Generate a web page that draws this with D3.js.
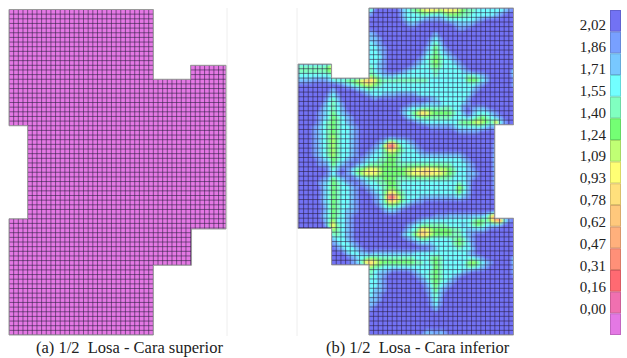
<!DOCTYPE html>
<html>
<head>
<meta charset="utf-8">
<script src="https://cdn.jsdelivr.net/npm/d3@7"></script>
<style>
  html, body { margin: 0; background: #fff; overflow: hidden; }
  text { font-family: "Liberation Serif", serif; fill: #222; }
</style>
</head>
<body>
<div id="chart"></div>
<script>
// legend, top to bottom
const legendLabels = ["2,02","1,86","1,71","1,55","1,40","1,24","1,09","0,93","0,78","0,62","0,47","0,31","0,16","0,00"];
const legendColors = ["#7272f4","#78a0ff","#78c8ff","#72ffff","#80ffc0","#74ff74","#c0ff74","#ffff74",
                      "#ffe07c","#ffc87c","#ffb07c","#ff9078","#ff6a72","#f070b0","#e478e4"];
const captions = ["(a) 1/2  Losa - Cara superior", "(b) 1/2  Losa - Cara inferior"];

// slab outlines, in mesh cells
const outlineTop = [[0,0],[31,0],[31,15],[39,15],[39,12],[46.6,12],[46.6,47.2],[39.2,47.2],[39.2,55],[31,55],[31,70],[0,70],[0,45],[4,45],[4,25],[0,25]];
const outlineBottom = [[15.2,0],[46.2,0],[46.2,25],[42.2,25],[42.2,45],[46.2,45],[46.2,70],[15.2,70],[15.2,55],[7.2,55],[7.2,47.2],[0,47.2],[0,12],[7.2,12],[7.2,15],[15.2,15]];

// cara inferior, one character per mesh cell: legend step counted from the bottom (0 to e), "." is outside the slab
const levelRows = [
"...............aeeeeeecba98777877789aabbbbbbcde",
"...............deeeeeecbbbaabbba999aabbbbbcdeee",
"...............eeeeeeedbbbcddddcbbbbbbcdeeeeeee",
"...............eeeeeeeedcdeeeeeeedcccdeeeeeeeee",
"...............eeeeeeeeeeeeeeeeeeeddeeeeeeeeeee",
"...............cdeeeeeeeeeeeeceeeeeeeeeeeeeeeee",
"...............ccdeeeeeeeeeedbdeeeeeeeeeeeeeeee",
"...............bcdeeeeeeeeeecaceeeeeeeeeeeeeeee",
"...............bbcdeeeeeeeedb9bdeeeeeeeeeeeeeee",
"...............bbcdeeeeeeeecb9bcdeeeeeeeeeeeeee",
"...............bbbdeeeeeeedba9abcdeeeeeeeeeeeee",
"...............bbcdeeeeeedcba8abbcdeeeeeeeeeeee",
"aaaaaa96.......abcdeeeeedcbba9abbbcdeeeeeeeeeee",
"aaaaaa98.......abcdeeedcbbbbbabbbbbcdeeeeeeeeea",
"bbbbbbba.......9abcccbbbbbbbbabbbbbbaabcdeeeeeb",
"cccdddcbaa99875579aaaaaaaaaabbbbbbbb999bceeeeed",
"eeeeeeeeedcba9889abbbbbbbbbbbbbbbbbbbbcdeeeeeeb",
"eeeeeeeceeeedcbabbbbbbbbbbbbbbbbbbbbbcdeeeeeeee",
"eeeeeedbdeeeeedcbbcccddddcbbbbbbbbbbbdeeeeeeeee",
"eeeeeecaceeeeeeedeeeeeeeeeeedcbbbbbbdeeeeeeeeee",
"eeeeedbabdeeeeeeeeeeeeeedddccccbbbbcdeeeeeeeeee",
"eeeeecbabceeeeeeeeeeeedcbbaaaaaaabbdedccdeeeeee",
"eeeedcb9bcdeeeeeeeeeeecba85689999abcecbbbcdeeee",
"eeeedcb9abcdeeeeeeeeeeecbaaaaaaaabbbcba9abcdeee",
"eeeedba9abcdeeeeeeeeeeeeedcbbbbbbba998789a5bdee",
"eeedcba9abbcdeeeeeeeeeeeeeeedddddcbbbbbbcdc....",
"eeedcba9abbcdeeeeeeeeeeeeeeeeeeeeedddddeeee....",
"eeedcba8abbcdeeeeeeeeeeeeeeeeeeeeeeeeeeeeee....",
"eeedcba8abbcdeeeedc99bbcdeeeeeeeeeeeeeeeeed....",
"eeedcba8abbcdeeedc8118bbcdeeeeeeeeeeeeeeeec....",
"eeedcba8abbcdeedcba779abbcdeeeeeeeeeeeeeeec....",
"eeedcba8abbcdedcbba99abbbbcccccccccdeeeeeeb....",
"eeeedcb9abcdedcbbaa99abbbbbbbbbbbbbcdeeeeeb....",
"eeeeddc9bcdedcbaaa999aaaaaaaaaaaabbbcdeeeeb....",
"eeeeeedacedca98778999998877677889abbcdeeeeb....",
"eeeeeedbdedca87778999998776667789abbccdeeec....",
"eeeeedc9bcdedcbaaa999aaaaaaaaaaaabbbcdeeeeb....",
"eeeedcb9abcdedcbbaa99abbbbbbbbbbbbabceeeeec....",
"eeeeecb9abbcdedcbba99abbbbbbbbbbbb8aceeeeec....",
"eeeeecb9abbcdeedcba779abbbbbbbbbbb9bceeeeed....",
"eeeeecb9abbcdeeedca117abbbccccccccbcdeeeeed....",
"eeeeecb9abbcdeeedca778abcddeeeeeeeeeeeeeeee....",
"eeeeedb9abbcdeeeedbaabcdeeeeeeeeeeeeeeeeeee....",
"eeeeedb9abccdeeeeedccdeeeeeeeeeeeeeeeeeeeee....",
"eeeeecb9abcdeeeeeeeeeeeeeeeeedddccccccccb63....",
"eeeeedb8bbcdeeeeeeeeeeeeedcbbbbbbbbbba99a743bde",
"eeeeeea6abcdeeeeeeeeeeedcbaaaaaabbbcba9abccdeee",
".......8abcdeeeeeeeeeeecba6789999aabccccdeeeeee",
".......aabcdeeeeeeeeeecba85689999aabcdeeeeeeeee",
".......cbbcdeeeeeeeeeeedcbaabbbbba9acdeeeeeeeee",
".......dcbbcdeeeeeeeeeeeedcccbbbba9abdeeeeeeeee",
".......edcbbcdeeeeeeeeeeeeeedcbbbbabbceeeeeeeee",
".......eeecbbccdcccccccccbbbbbbbbbbbcdeeeeeeeee",
".......eeeedcba99aaaaaaaabbba9abbbbbbbcdeeeeeeb",
".......eeeedca65789999999aaba9abbbbb989bcdeeeeb",
"...............8aabbbbbbbbbbb9abbbbbaabcdeeeeec",
"...............abccdeeeedcbba9abbbbcdeeeeeeeeec",
"...............abcdeeeeeedcba9abbcdeeeeeeeeeeed",
"...............bbcdeeeeeeedca9abcdeeeeeeeeeeeee",
"...............bbcdeeeeeeeedb9bcdeeeeeeeeeeeeee",
"...............bccdeeeeeeeedc9cdeeeeeeeeeeeeeee",
"...............bcdeeeeeeeeeecaceeeeeeeeeeeeeeee",
"...............ccdeeeeeeeeeedadeeeeeeeeeeeeeeee",
"...............cdeeeeeeeeeeedbdeeeeeeeeeeeeeeee",
"...............deeeeeeeeeeeeeceeeeeeeeeeeeeeeee",
"...............eeeeeeeeeeeeeeeeeeeeeeeeeeeeeeee",
"...............eeeeeeeeeeeeeeeeeeeeeeeeeeeeeeee",
"...............eeeeeeeeeeeeeeeeeeeeeeeeeeeeeeee",
"...............eeeeeeeeeeeeeeeeeeeeeeeeeeeeeeee",
"...............eeeeeeeeeeeeccdcdeeeeeeeeeeeeeee"
];

const width = 627, height = 358;
const nCols = 47, nRows = 70;

const svg = d3.select("#chart").append("svg")
    .attr("width", width)
    .attr("height", height);

const defs = svg.append("defs");
[["soft", 0.55], ["softer", 1.1]].forEach(([id, sd]) => {
    defs.append("filter").attr("id", id)
        .attr("x", "-3%").attr("y", "-3%").attr("width", "106%").attr("height", "106%")
      .append("feGaussianBlur").attr("stdDeviation", sd);
});

const levelColor = d3.scaleOrdinal()
    .domain(d3.range(15).reverse())
    .range(legendColors);

function drawSlab(id, outline, xMax, xRange, yRange, offset, field) {
    const x = d3.scaleLinear().domain([0, xMax]).range(xRange);
    const y = d3.scaleLinear().domain([0, nRows]).range(yRange);
    const line = d3.line().x(d => x(d[0])).y(d => y(d[1])).curve(d3.curveLinearClosed);

    defs.append("clipPath").attr("id", "clip-" + id)
      .append("path").attr("d", line(outline));

    const g = svg.append("g").attr("filter", "url(#soft)");
    const inner = g.append("g").attr("clip-path", `url(#clip-${id})`);

    inner.append("path").attr("d", line(outline)).attr("fill", levelColor(field ? 14 : 0));

    if (field) {
        const values = [];
        field.forEach(row => {
            for (let c = 0; c < nCols; c++) {
                const ch = row[c];
                values.push(ch === undefined || ch === "." ? 14 : parseInt(ch, 16));
            }
        });
        const contours = d3.contours().size([nCols, nRows]).smooth(true).thresholds(d3.range(0.5, 14, 1))(values);
        const project = d3.geoPath(d3.geoTransform({
            point(px, py) { this.stream.point(x(px), y(py)); }
        }));
        // lowest first: each band is painted over by the next step up
        inner.append("g").attr("filter", "url(#softer)")
          .selectAll(".band").data(contours).join("path")
            .attr("class", "band")
            .attr("d", project)
            .attr("fill", (d, i) => levelColor(i + 1));
    }

    // mesh
    const mesh = inner.append("g").attr("stroke", "#2a1c40").attr("stroke-opacity", 0.6).attr("stroke-width", 0.95);
    mesh.selectAll(".col").data(d3.range(offset, xMax + 0.01, 1)).join("line")
        .attr("class", "col")
        .attr("x1", d => x(d)).attr("x2", d => x(d))
        .attr("y1", yRange[0]).attr("y2", yRange[1]);
    mesh.selectAll(".row").data(d3.range(0, nRows + 1)).join("line")
        .attr("class", "row")
        .attr("x1", xRange[0]).attr("x2", xRange[1])
        .attr("y1", d => y(d)).attr("y2", d => y(d));

    g.append("path").attr("d", line(outline))
        .attr("fill", "none").attr("stroke", "#9a9a9a").attr("stroke-width", 1);
}

// faint page edges left around the two plots
svg.append("line").attr("x1", 227).attr("x2", 227).attr("y1", 8).attr("y2", 336).attr("stroke", "#eeeeee");
svg.append("line").attr("x1", 297).attr("x2", 297).attr("y1", 8).attr("y2", 336).attr("stroke", "#eeeeee");

drawSlab("sup", outlineTop, 46.6, [9, 226], [9.5, 335], 0, null);
drawSlab("inf", outlineBottom, 46.2, [298, 513.5], [8, 335], 0.2, levelRows);

// legend
const legendY = d3.scaleBand().domain(legendColors).range([10, 335]);
svg.selectAll(".swatch").data(legendColors).join("rect")
    .attr("class", "swatch")
    .attr("x", 610.5)
    .attr("width", 10)
    .attr("y", d => legendY(d) + 0.5)
    .attr("height", legendY.bandwidth() - 1)
    .attr("fill", d => d)
    .attr("stroke", d => d3.color(d).darker(0.45))
    .attr("stroke-width", 1);

const labelY = d3.scalePoint().domain(legendLabels).range([25, 309]);
const legendAxis = svg.append("g")
    .attr("transform", "translate(606,0)")
    .call(d3.axisLeft(labelY).tickSize(0).tickPadding(0));
legendAxis.select(".domain").remove();
legendAxis.selectAll("text")
    .attr("font-size", 15)
    .style("font-family", '"Liberation Serif", serif')
    .attr("fill", "#222");

svg.selectAll(".caption").data(captions).join("text")
    .attr("class", "caption")
    .attr("x", (d, i) => [36, 326][i])
    .attr("y", 353)
    .attr("font-size", 16.5)
    .style("white-space", "pre")
    .text(d => d);
</script>
</body>
</html>
